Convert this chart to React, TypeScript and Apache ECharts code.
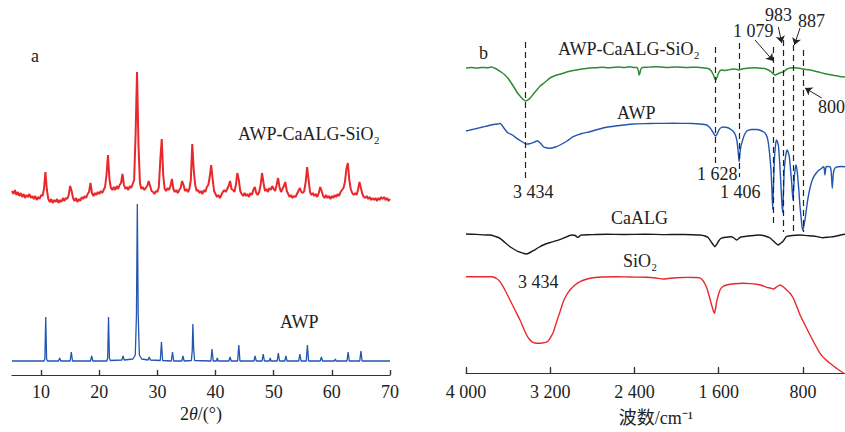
import { useEffect, useRef } from 'react';
import * as echarts from 'echarts';

// ---------- Panel a: XRD ----------
const XRD_TICKS = [10, 20, 30, 40, 50, 60, 70];
// AWP-CaALG-SiO2 composite, step scan from 5° by 0.25° (offset intensity, a.u.)
const XRD_COMPOSITE_START = 5;
const XRD_COMPOSITE_STEP = 0.25;
const XRD_COMPOSITE = [
  184, 181, 185, 180, // 5
  183, 179, 182, 178, // 6
  181, 177, 180, 178, // 7
  181, 177, 179, 176, // 8
  179, 175, 178, 176, // 9
  180, 179, 186, 203, // 10
  185, 176, 173, 176, // 11
  172, 175, 173, 176, // 12
  172, 175, 173, 177, // 13
  174, 177, 176, 180, // 14
  189, 184, 177, 174, // 15
  177, 173, 176, 174, // 16
  178, 176, 179, 177, // 17
  181, 183, 192, 182, // 18
  179, 182, 180, 183, // 19
  181, 184, 182, 185, // 20
  188, 200, 220, 196, // 21
  187, 185, 188, 185, // 22
  189, 186, 190, 192, // 23
  201, 190, 186, 188, // 24
  185, 189, 187, 191, // 25
  195, 240, 303, 230, // 26
  192, 186, 188, 185, // 27
  187, 189, 194, 189, // 28
  184, 183, 181, 184, // 29
  183, 188, 215, 236, // 30
  200, 186, 184, 187, // 31
  185, 189, 196, 186, // 32
  183, 185, 182, 185, // 33
  187, 194, 190, 184, // 34
  186, 183, 186, 195, // 35
  231, 205, 190, 184, // 36
  185, 182, 184, 181, // 37
  185, 183, 188, 190, // 38
  198, 210, 196, 184, // 39
  181, 178, 180, 177, // 40
  180, 183, 185, 183, // 41
  186, 189, 194, 186, // 42
  185, 183, 190, 202, // 43
  195, 184, 181, 179, // 44
  182, 179, 181, 178, // 45
  182, 180, 185, 188, // 46
  182, 180, 183, 190, // 47
  202, 192, 184, 186, // 48
  183, 187, 185, 189, // 49
  186, 184, 190, 197, // 50
  188, 183, 186, 189, // 51
  193, 184, 181, 178, // 52
  180, 177, 179, 178, // 53
  181, 184, 187, 183, // 54
  182, 184, 193, 208, // 55
  195, 183, 180, 182, // 56
  179, 181, 178, 182, // 57
  188, 184, 179, 177, // 58
  180, 177, 179, 176, // 59
  179, 177, 180, 178, // 60
  181, 179, 183, 185, // 61
  187, 193, 206, 212, // 62
  195, 186, 182, 180, // 63
  182, 180, 185, 193, // 64
  187, 181, 178, 177, // 65
  179, 176, 178, 175, // 66
  177, 175, 177, 174, // 67
  177, 175, 178, 176, // 68
  178, 175, 177, 174, // 69
  176, // 70
];
// AWP pattern [2θ, intensity]
const XRD_AWP: [number, number][] = [
  [5, 14], [10.5, 14], [10.65, 16], [10.8, 58], [10.95, 16], [11.1, 14],
  [13.0, 14], [13.2, 17], [13.4, 14],
  [15.0, 14], [15.2, 23], [15.4, 14],
  [18.5, 14], [18.7, 19], [18.9, 14],
  [21.3, 14], [21.45, 17], [21.6, 58], [21.75, 17], [21.9, 14.5],
  [23.9, 15], [24.1, 19], [24.3, 15],
  [25.8, 16], [26.2, 20], [26.4, 60], [26.55, 171], [26.7, 60], [26.9, 20], [27.3, 16],
  [28.4, 15], [28.6, 18], [28.8, 15],
  [30.5, 14.5], [30.7, 33], [30.9, 14.5],
  [32.4, 14], [32.6, 23], [32.8, 14],
  [34.2, 14], [34.4, 19], [34.6, 14],
  [35.85, 14.5], [36.0, 25], [36.1, 51], [36.25, 25], [36.4, 14.5],
  [39.2, 14], [39.4, 26], [39.6, 14],
  [40.15, 14], [40.3, 17], [40.45, 14],
  [42.3, 14], [42.5, 18], [42.7, 14],
  [43.8, 14], [44.0, 30], [44.2, 14],
  [46.6, 14], [46.8, 19], [47.0, 14],
  [48.0, 14], [48.2, 21], [48.4, 14],
  [49.25, 14], [49.4, 17], [49.55, 14],
  [50.6, 14], [50.8, 22], [51.0, 14],
  [51.9, 14], [52.1, 19], [52.3, 14],
  [54.3, 14], [54.5, 21], [54.7, 14],
  [55.6, 14], [55.8, 30], [56.0, 14],
  [58.0, 14], [58.2, 18], [58.4, 14],
  [60.45, 14], [60.6, 16], [60.75, 14],
  [62.6, 14], [62.8, 23], [63.0, 14],
  [64.8, 14], [65.0, 24], [65.2, 14],
  [70, 14],
];

// ---------- Panel b: FTIR ----------
const FTIR_TICKS = [800, 1600, 2400, 3200, 4000];
const FTIR_COMPOSITE: [number, number][] = [
  [4000, 305], [3950, 305.5], [3900, 304.8], [3850, 305.6], [3800, 305.2], [3760, 306], [3720, 304.5],
  [3690, 302.5], [3660, 300.5], [3630, 298], [3600, 294.5], [3570, 290], [3540, 285], [3518, 281],
  [3495, 278], [3470, 275], [3450, 273], [3434, 272], [3415, 272.8], [3390, 275], [3360, 279],
  [3328, 283], [3295, 287], [3260, 290], [3230, 292.5], [3202, 295], [3150, 297.5], [3100, 299],
  [3043, 301], [2980, 302.5], [2900, 304], [2822, 305], [2760, 305.3], [2700, 305.8], [2650, 305.2],
  [2600, 305.6], [2550, 306], [2500, 305.4], [2450, 306.2], [2400, 305.6], [2375, 305.5], [2362, 302],
  [2356, 298], [2348, 300], [2338, 304], [2325, 305.5], [2280, 305.8], [2200, 306.2], [2100, 305.6],
  [2000, 306], [1900, 305.6], [1800, 305.8], [1750, 305.2], [1700, 304.5], [1670, 302], [1650, 298],
  [1635, 294], [1628, 293], [1618, 295], [1605, 299], [1590, 302], [1570, 303], [1540, 302.6],
  [1511, 303], [1480, 303.8], [1450, 304], [1420, 303.4], [1406, 303], [1390, 303.6], [1350, 304.5],
  [1300, 305], [1250, 305.2], [1200, 304.8], [1150, 304], [1120, 302.5], [1100, 301], [1080, 299],
  [1065, 298], [1050, 298.5], [1030, 299.5], [1010, 300.5], [995, 300.8], [986, 301], [970, 302.5],
  [950, 304], [922, 305], [890, 305.2], [850, 305], [820, 304.5], [800, 304], [770, 303.6], [732, 303],
  [700, 302.3], [650, 301], [600, 299.5], [550, 298.5], [500, 297.5], [450, 296.6], [400, 296],
];
const FTIR_AWP: [number, number][] = [
  [4000, 242], [3950, 243.3], [3900, 244.5], [3850, 245.8], [3800, 247], [3750, 248.2], [3700, 249],
  [3677, 249.5], [3660, 248], [3640, 245], [3613, 241.3], [3590, 239.5], [3560, 238], [3518, 234.7],
  [3470, 231.5], [3430, 229], [3395, 229.3], [3361, 230.3], [3340, 231.5], [3323, 232.3], [3305, 231],
  [3290, 229.5], [3266, 226.3], [3230, 225], [3202, 224.7], [3150, 226], [3107, 228], [3040, 232],
  [2981, 236.3], [2900, 239.5], [2822, 241.3], [2750, 243.5], [2664, 245.7], [2580, 247], [2500, 248],
  [2411, 249], [2300, 249.4], [2200, 249.6], [2031, 249.7], [1900, 249.6], [1850, 249.5], [1780, 249],
  [1714, 248], [1690, 246], [1667, 243], [1645, 239], [1628, 237], [1610, 240], [1594, 243.7],
  [1575, 245.5], [1556, 246], [1520, 245.5], [1492, 244.2], [1465, 242], [1445, 239], [1428, 233],
  [1415, 222], [1406, 211.3], [1398, 220], [1390, 226], [1381, 229.7], [1360, 237], [1333, 242],
  [1290, 243.5], [1238, 243.5], [1200, 242.5], [1160, 240], [1140, 236], [1128, 230], [1115, 218],
  [1103, 203], [1095, 185], [1087, 163.7], [1080, 185], [1071, 213], [1062, 226], [1052, 233],
  [1043, 231.5], [1033, 228], [1020, 210], [1008, 186.3], [1000, 170], [992, 160.3], [985, 180],
  [977, 203], [965, 216], [951, 223], [940, 221], [929, 216.3], [918, 204], [906, 189.7], [900, 180],
  [894, 173], [888, 184], [881, 196.3], [873, 204], [865, 208], [857, 204], [849, 196.3], [838, 182],
  [827, 166.3], [815, 153], [808, 146], [802, 143], [795, 145], [788, 149], [780, 153], [765, 165],
  [749, 176.3], [730, 186], [711, 193], [690, 197.5], [654, 202.3], [630, 204], [621, 204.7],
  [606, 206.3], [598, 205], [593, 200], [590, 198], [587, 201], [582, 205.5], [578, 206.3], [560, 206.5],
  [542, 206.3], [533, 203], [527, 195], [521, 184.7], [516, 192], [512, 198], [504, 203], [490, 205.5],
  [463, 206.3], [430, 206.5], [400, 206.3],
];
const FTIR_CAALG: [number, number][] = [
  [4000, 139], [3900, 138.6], [3800, 138], [3772, 138], [3720, 136.5], [3677, 134.7], [3630, 130.5],
  [3582, 126.3], [3540, 123.5], [3503, 121.3], [3460, 119.8], [3430, 119], [3400, 120], [3361, 122.3],
  [3310, 125.5], [3266, 128], [3200, 130.5], [3139, 132.3], [3070, 135], [2997, 138], [2960, 137.5],
  [2950, 136.2], [2938, 135.7], [2925, 136.5], [2910, 137.8], [2887, 138], [2800, 138.4], [2665, 138.7],
  [2500, 138.5], [2300, 138.8], [2100, 138.4], [2000, 138.5], [1850, 138.3], [1777, 138], [1730, 137],
  [1700, 135.5], [1670, 131], [1650, 128], [1635, 126.3], [1620, 128.5], [1600, 132], [1580, 134.5],
  [1560, 135.3], [1520, 135.8], [1480, 136.3], [1455, 135], [1430, 133], [1410, 134.5], [1390, 136],
  [1370, 136.3], [1300, 137.2], [1250, 137.8], [1210, 138], [1160, 137], [1112, 135], [1080, 132],
  [1055, 129.5], [1036, 128], [1015, 129.5], [990, 131.5], [970, 134.5], [957, 136.3], [900, 137.5],
  [830, 138], [760, 137.4], [700, 137], [650, 136], [610, 135.3], [560, 135.8], [500, 136.5],
  [450, 137.8], [400, 138.7],
];
const FTIR_SIO2: [number, number][] = [
  [4000, 96.3], [3850, 96.3], [3760, 96.2], [3740, 96], [3710, 94.5], [3677, 91.3], [3630, 83],
  [3582, 73], [3535, 63], [3487, 53], [3455, 45], [3424, 38], [3400, 34], [3376, 31.3], [3345, 30],
  [3313, 29.7], [3275, 30], [3240, 30.7], [3220, 32], [3202, 34.7], [3170, 41], [3139, 51.3],
  [3105, 62], [3076, 71.3], [3045, 78], [3012, 83], [2965, 88], [2917, 91.3], [2850, 94], [2790, 95.3],
  [2700, 96], [2568, 96.3], [2450, 96], [2283, 95.7], [2200, 95], [2125, 94], [2060, 94.8], [1998, 95.3],
  [1900, 95.6], [1820, 95.5], [1777, 95.2], [1750, 92.5], [1730, 89], [1714, 85.5], [1690, 77],
  [1667, 68], [1650, 62], [1641, 59.7], [1630, 64], [1619, 71.3], [1600, 79], [1587, 83], [1560, 86.5],
  [1524, 88], [1450, 89.2], [1366, 89.7], [1300, 89.4], [1239, 88.7], [1190, 87.5], [1144, 85.7],
  [1110, 85], [1080, 84], [1050, 86], [1017, 88], [990, 86.5], [954, 83], [920, 79.5], [891, 74.7],
  [860, 67], [827, 58], [780, 48], [732, 38], [685, 28.5], [637, 19.7], [590, 14], [542, 9.7],
  [510, 7], [479, 4.7], [445, 2], [416, 0], [400, -1],
];
// peak marker lines: wavenumber and the vertical span (intensity units)
const PEAK_MARKS = [
  { wn: 3434, y1: 331, y2: 191 },
  { wn: 1628, y1: 326, y2: 208 },
  { wn: 1406, y1: 330, y2: 196 },
  { wn: 1079, y1: 326, y2: 148 },
  { wn: 983, y1: 333, y2: 141 },
  { wn: 887, y1: 328, y2: 141 },
  { wn: 800, y1: 323, y2: 141 },
];
const PEAK_ARROWS = [
  { x1: 1255, y1: 333, x2: 1081, y2: 312 },
  { x1: 1033, y1: 346, x2: 1001, y2: 330 },
  { x1: 827, y1: 345, x2: 881, y2: 328 },
  { x1: 621, y1: 275, x2: 780, y2: 285 },
];
// inward tick length in intensity units (1 unit ≈ 1 px in both panels)
const TICK_LEN = 5;

const FONT = "'Liberation Serif', 'Times New Roman', 'Noto Sans CJK SC', serif";
const TXT = '#222';

function fmtWn(v: number) {
  if (v >= 1000) return Math.floor(v / 1000) + ' ' + String(v % 1000).padStart(3, '0');
  return String(v);
}

function txt(text: string, x: number, y: number, align: string = 'left', extra: any = {}) {
  return {
    type: 'text',
    x,
    y,
    silent: true,
    style: {
      text,
      fill: TXT,
      fontSize: 18,
      fontFamily: FONT,
      align,
      verticalAlign: 'middle',
      ...extra,
    },
  };
}

function tickMarks(values: number[]) {
  return {
    silent: true, animation: false, symbol: ['none', 'none'], label: { show: false },
    lineStyle: { type: 'solid', color: '#333', width: 1.2 },
    emphasis: { disabled: true },
    data: values.map((v) => [{ coord: [v, 0] }, { coord: [v, TICK_LEN] }]),
  };
}

export default function App() {
  const ref = useRef<HTMLDivElement>(null);
  useEffect(() => {
    const chart = echarts.init(ref.current!, null, { renderer: 'svg' });
    const axisCommon = {
      type: 'value',
      axisLine: { show: true, onZero: false, lineStyle: { color: '#333', width: 1.2 } },
      splitLine: { show: false },
    };
    const option: any = {
      animation: false,
      backgroundColor: '#fff',
      grid: [
        { left: 12, width: 378, top: 60, height: 315 },
        { left: 466, width: 379, top: 10, height: 363 },
      ],
      xAxis: [
        {
          ...axisCommon,
          gridIndex: 0,
          min: 5,
          max: 70,
          axisTick: { show: true, inside: true, length: 5, customValues: XRD_TICKS, lineStyle: { color: '#333', width: 1.2 } },
          axisLabel: { customValues: XRD_TICKS, margin: 8, fontSize: 18, color: TXT, fontFamily: FONT },
        },
        {
          ...axisCommon,
          gridIndex: 1,
          min: 400,
          max: 4000,
          inverse: true,
          axisTick: { show: true, inside: true, length: 6, customValues: FTIR_TICKS, lineStyle: { color: '#333', width: 1.2 } },
          axisLabel: { customValues: FTIR_TICKS, margin: 10, fontSize: 18, color: TXT, fontFamily: FONT, formatter: fmtWn },
        },
      ],
      yAxis: [
        { type: 'value', gridIndex: 0, min: 0, max: 315, show: false },
        { type: 'value', gridIndex: 1, min: 0, max: 363, show: false },
      ],
      series: [
        {
          type: 'line', xAxisIndex: 0, yAxisIndex: 0, showSymbol: false, symbol: 'none',
          data: XRD_COMPOSITE.map((v, i) => [XRD_COMPOSITE_START + i * XRD_COMPOSITE_STEP, v]),
          lineStyle: { color: '#e8282b', width: 2 },
          markLine: tickMarks(XRD_TICKS),
        },
        {
          type: 'line', xAxisIndex: 0, yAxisIndex: 0, showSymbol: false, symbol: 'none',
          data: XRD_AWP,
          lineStyle: { color: '#2256b0', width: 1.3 },
        },
        {
          type: 'line', xAxisIndex: 1, yAxisIndex: 1, showSymbol: false, symbol: 'none', smooth: 0.2,
          data: FTIR_COMPOSITE,
          lineStyle: { color: '#2f8a36', width: 1.5 },
          markLine: {
            silent: true, animation: false, symbol: ['none', 'none'], label: { show: false },
            lineStyle: { type: [6, 4], color: '#222', width: 1.2 },
            emphasis: { disabled: true },
            data: PEAK_MARKS.map((d) => [{ coord: [d.wn, d.y1] }, { coord: [d.wn, d.y2] }]),
          },
        },
        {
          type: 'line', xAxisIndex: 1, yAxisIndex: 1, showSymbol: false, symbol: 'none', smooth: 0.15,
          data: FTIR_AWP,
          lineStyle: { color: '#2256b0', width: 1.4 },
          markLine: {
            silent: true, animation: false, symbol: ['none', 'arrow'], symbolSize: 7, label: { show: false },
            lineStyle: { type: 'solid', color: '#222', width: 1 },
            emphasis: { disabled: true },
            data: PEAK_ARROWS.map((a) => [{ coord: [a.x1, a.y1] }, { coord: [a.x2, a.y2] }]),
          },
        },
        {
          type: 'line', xAxisIndex: 1, yAxisIndex: 1, showSymbol: false, symbol: 'none', smooth: 0.2,
          data: FTIR_CAALG,
          lineStyle: { color: '#1a1a1a', width: 1.4 },
        },
        {
          type: 'line', xAxisIndex: 1, yAxisIndex: 1, showSymbol: false, symbol: 'none', smooth: 0.2,
          data: FTIR_SIO2,
          lineStyle: { color: '#e8282b', width: 1.4 },
          markLine: tickMarks(FTIR_TICKS),
        },
      ],
      graphic: [
        txt('a', 31, 56),
        txt('AWP-CaALG-SiO₂', 238, 134),
        txt('AWP', 280, 322),
        { ...txt('2{i|θ}/(°)', 201, 414, 'center', { rich: { i: { fontStyle: 'italic', fontSize: 18, fontFamily: FONT, fill: TXT } } }) },
        txt('b', 479, 53),
        txt('AWP-CaALG-SiO₂', 558, 49),
        txt('AWP', 617, 113),
        txt('3 434', 513, 192),
        txt('1 628', 697, 174),
        txt('1 406', 720, 192),
        txt('1 079', 733, 31),
        txt('983', 765, 15),
        txt('887', 798, 21),
        txt('800', 818, 107),
        txt('CaALG', 611, 218),
        txt('SiO₂', 623, 261),
        txt('3 434', 518, 282),
        txt('波数/cm⁻¹', 656, 418, 'center'),
      ],
    };
    chart.setOption(option);
    return () => chart.dispose();
  }, []);
  return (
    <div
      ref={ref}
      style={{ position: 'fixed', left: 0, top: 0, width: 845, height: 432, background: '#fff' }}
    />
  );
}
